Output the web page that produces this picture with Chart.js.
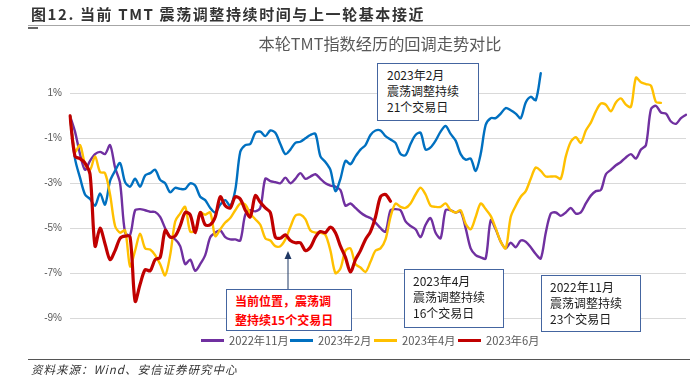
<!DOCTYPE html>
<html>
<head>
<meta charset="utf-8">
<script src="https://cdn.jsdelivr.net/npm/chart.js@4"></script>
<style>
  html,body{margin:0;padding:0;background:#fff;}
  #page{position:relative;width:699px;height:383px;overflow:hidden;background:#fff;font-family:"Noto Sans CJK SC","Noto Sans",sans-serif;}
  canvas{position:absolute;left:0;top:0;}
  .abs{position:absolute;white-space:nowrap;}
  .box{position:absolute;background:#fff;border:1px solid #4465a0;box-sizing:border-box;font-size:12px;line-height:16px;color:#1a1a1a;white-space:nowrap;}
  .leg{position:absolute;top:333px;height:14px;font-size:11.2px;line-height:14px;color:#595959;white-space:nowrap;}
  .leg i{display:inline-block;width:23px;height:3px;vertical-align:middle;margin-right:5px;position:relative;top:-1px;}
</style>
</head>
<body>
<div id="page">
  <canvas id="c" width="699" height="383"></canvas>
  <div class="abs" style="left:31px;top:3px;font-size:15px;font-weight:bold;letter-spacing:1.6px;color:#333;">图12. 当前 TMT 震荡调整持续时间与上一轮基本接近</div>
  <div class="abs" style="left:28px;top:25px;width:662px;height:1px;background:#a6a6a6;"></div>
  <div class="abs" style="left:28px;top:27px;width:10px;height:2px;background:#666;"></div>
  <div class="abs" style="left:240px;top:31px;width:280px;text-align:center;font-size:16.2px;color:#595959;">本轮TMT指数经历的回调走势对比</div>

  <div class="box" style="left:377px;top:63px;width:102px;height:58px;padding:3px 0 0 9px;">2023年2月<br>震荡调整持续<br>21个交易日</div>
  <div class="box" style="left:226px;top:289px;width:126px;height:42px;padding:1px 0 0 8px;color:#ff0000;font-weight:bold;line-height:19px;">当前位置，震荡调<br>整持续15个交易日</div>
  <div class="box" style="left:404px;top:269px;width:100px;height:59px;padding:3px 0 0 8px;">2023年4月<br>震荡调整持续<br>16个交易日</div>
  <div class="box" style="left:541px;top:275px;width:100px;height:57px;padding:3px 0 0 8px;">2022年11月<br>震荡调整持续<br>23个交易日</div>

  <svg class="abs" style="left:0;top:0;" width="699" height="383">
    <line x1="288" y1="289" x2="288" y2="257" stroke="#1f3864" stroke-width="1"/>
    <polygon points="288,251 284.5,259 291.5,259" fill="#1f3864"/>
  </svg>

  <div id="legend"></div>

  <div class="abs" style="left:28px;top:359px;width:662px;height:1px;background:#555;"></div>
  <div class="abs" style="left:31px;top:361px;font-size:11.5px;font-style:italic;letter-spacing:1px;color:#333;">资料来源：Wind、安信证券研究中心</div>
</div>
<script>
// trading-day index (categories)
const days = [1,2,3,4,5,6,7,8,9,10,11,12,13,14,15,16,17,18,19,20,
21,22,23,24,25,26,27,28,29,30,31,32,33,34,35,36,37,38,39,40,
41,42,43,44,45,46,47,48,49,50,51,52,53,54,55,56,57,58,59,60,
61,62,63,64,65,66,67,68,69,70,71,72,73,74,75,76,77,78,79,80,
81,82,83,84,85,86,87,88,89,90,91,92,93,94,95,96,97,98,99,100,
101,102,103,104,105,106,107,108,109,110,111,112,113,114,115,116,117,118,119,120,
121,122,123,124];

const seriesNames = ["2022年11月","2023年2月","2023年4月","2023年6月"];
const seriesColors = ["#7030A0","#0070C0","#FFC000","#C00000"];

// cumulative return (%)
const nov2022 = [0,-0.7,-1.7,-2.4,-2.0,-1.7,-1.6,-1.7,-1.3,-2.3,
-3.0,-5.2,-5.3,-4.2,-4.15,-4.2,-4.27,-4.28,-4.5,-5.0,
-5.4,-5.5,-5.8,-6.6,-6.4,-6.9,-6.6,-6.2,-5.4,-5.2,
-5.1,-5.4,-5.5,-5.5,-5.55,-4.4,-4.2,-4.25,-4.1,-2.8,
-2.9,-2.95,-3.0,-2.75,-3.0,-2.8,-2.55,-2.8,-2.7,-2.6,
-2.8,-3.0,-3.1,-3.15,-3.3,-4.0,-3.9,-4.1,-4.3,-4.45,
-4.55,-4.75,-5.0,-5.15,-4.2,-4.15,-4.2,-4.7,-4.9,-5.05,
-5.4,-4.85,-4.55,-5.2,-5.45,-4.2,-4.2,-4.3,-4.25,-5.0,
-5.9,-6.2,-6.3,-6.35,-4.65,-5.05,-5.6,-5.9,-5.65,-5.85,
-5.55,-5.6,-5.85,-6.15,-6.35,-5.2,-4.35,-4.3,-4.45,-4.3,
-4.1,-4.35,-4.3,-3.9,-3.55,-3.35,-3.3,-2.6,-2.4,-2.2,
-2.05,-1.85,-1.7,-1.9,-1.5,-1.3,0.3,0.45,0.15,0.1,
-0.25,-0.35,-0.1,0.05];

const feb2023 = [0,-1.9,-2.75,-3.5,-3.7,-4.0,-3.45,-3.95,-2.9,-2.45,
-2.1,-2.95,-3.15,-2.8,-3.15,-2.65,-2.55,-2.4,-2.85,-3.0,
-3.4,-3.2,-3.25,-3.25,-3.0,-3.1,-3.6,-3.75,-4.1,-4.3,
-3.95,-3.75,-4.0,-3.3,-1.6,-1.3,-1.25,-0.75,-0.7,-0.9,
-0.65,-0.75,-1.25,-1.7,-1.5,-1.2,-1.15,-1.0,-0.85,-0.8,
-1.8,-2.05,-2.4,-3.35,-2.8,-2.0,-2.15,-1.8,-1.5,-1.3,
-0.85,-0.65,-0.65,-0.9,-1.05,-1.2,-1.7,-1.75,-1.25,-0.85,
-0.75,-1.5,-1.4,-1.1,-0.7,-0.45,-0.8,-1.1,-1.7,-1.95,
-1.9,-2.45,-1.7,-0.4,-0.1,-0.1,0.1,0.35,0.25,0.1,
-0.1,0.6,0.85,0.7,1.9];

const apr2023 = [0,-1.6,-1.3,-2.15,-2.4,-1.8,-2.5,-2.55,-3.5,-4.9,
-5.2,-5.1,-6.7,-6.0,-5.25,-5.9,-5.95,-6.2,-6.6,-7.1,
-6.2,-4.7,-4.35,-4.05,-5.15,-5.1,-4.3,-4.4,-4.3,-5.35,
-5.05,-4.75,-4.55,-4.2,-3.9,-3.95,-4.35,-4.6,-4.85,-5.45,
-5.55,-5.8,-5.8,-5.5,-4.95,-4.45,-4.4,-4.6,-5.1,-5.2,
-5.2,-5.3,-6.0,-7.0,-6.8,-6.0,-5.9,-6.6,-6.75,-6.95,
-6.5,-6.0,-5.9,-5.5,-4.5,-3.9,-4.05,-4.1,-3.9,-3.5,
-3.2,-3.5,-4.0,-4.05,-4.05,-3.9,-4.2,-4.3,-4.2,-4.8,
-5.05,-4.5,-3.9,-4.15,-4.45,-5.0,-5.6,-5.9,-4.5,-4.0,
-3.6,-3.35,-2.8,-2.3,-2.45,-2.7,-2.7,-2.7,-2.8,-1.8,
-1.15,-0.95,-1.2,-0.65,-0.3,0.2,0.55,0.5,0.2,0.6,
0.78,0.5,0.4,1.7,1.5,1.42,1.35,0.62,0.58];

const jun2023 = [0,-1.8,-1.9,-2.1,-2.6,-5.8,-5.0,-5.7,-6.4,-6.0,
-5.45,-5.35,-5.4,-8.25,-7.5,-6.85,-6.9,-6.4,-6.3,-5.1,
-5.4,-5.35,-4.9,-4.3,-4.4,-5.2,-4.3,-4.85,-4.85,-4.5,
-3.6,-4.0,-4.1,-3.6,-3.7,-4.2,-4.5,-3.55,-3.85,-4.1,
-4.3,-5.4,-5.45,-5.3,-5.55,-5.65,-5.65,-6.0,-5.85,-5.4,
-5.15,-5.2,-4.95,-5.2,-5.8,-6.3,-6.95,-6.4,-6.0,-5.5,
-5.15,-4.5,-3.6,-3.5,-3.8];

const yTicks = [-9,-7,-5,-3,-1,1];

const seriesData = [nov2022, feb2023, apr2023, jun2023];
const widths = [2.4, 2.4, 2.4, 3.2];
const orders = [4, 3, 2, 1];

const datasets = seriesData.map((d, k) => ({
  label: seriesNames[k],
  data: d,
  borderColor: seriesColors[k],
  backgroundColor: seriesColors[k],
  borderWidth: widths[k],
  pointRadius: 0,
  tension: 0.3,
  fill: false,
  order: orders[k],
  borderCapStyle: 'round',
  borderJoinStyle: 'round'
}));

// legend (HTML)
const legPos = [201, 290, 374, 458];
const legendEl = document.getElementById('legend');
seriesNames.forEach((n, k) => {
  const d = document.createElement('div');
  d.className = 'leg';
  d.style.left = legPos[k] + 'px';
  d.innerHTML = '<i style="background:' + seriesColors[k] + '"></i>' + n;
  legendEl.appendChild(d);
});

new Chart(document.getElementById('c'), {
  type: 'line',
  data: { labels: days, datasets: datasets },
  options: {
    responsive: false,
    devicePixelRatio: 1,
    animation: false,
    layout: { padding: { left: 0, right: 13, top: 71, bottom: 65 } },
    plugins: { legend: { display: false }, title: { display: false }, tooltip: { enabled: false } },
    scales: {
      x: { type: 'category', display: false, offset: false },
      y: {
        min: -9, max: 2,
        afterBuildTicks: (s) => { s.ticks = yTicks.map(v => ({ value: v })); },
        afterFit: (s) => { s.width = 70; },
        border: { display: false },
        grid: { color: '#d9d9d9', lineWidth: 1, drawTicks: false },
        ticks: {
          padding: 8,
          color: '#595959',
          font: { family: 'Liberation Sans', size: 10 },
          callback: (v) => v + '%'
        }
      }
    }
  }
});
</script>
</body>
</html>
